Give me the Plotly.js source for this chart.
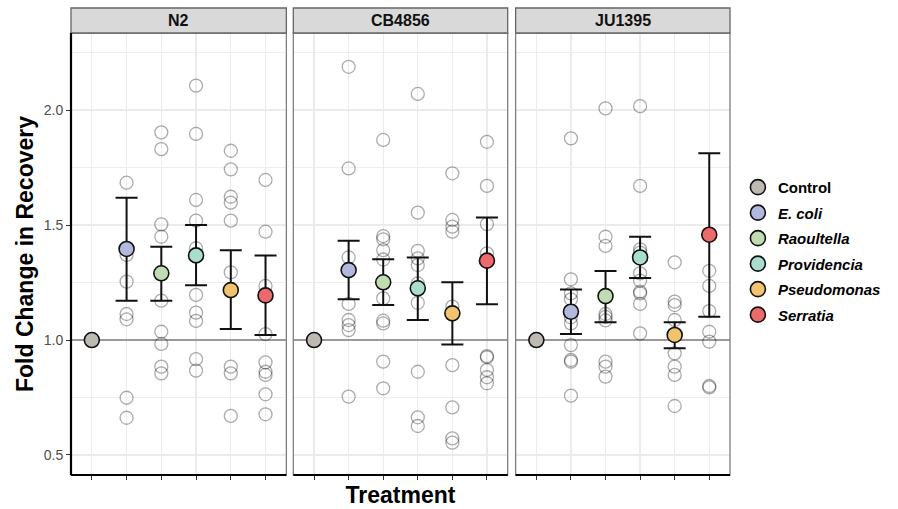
<!DOCTYPE html>
<html>
<head>
<meta charset="utf-8">
<script src="https://cdn.plot.ly/plotly-3.0.1.min.js"></script>
<style>html,body{margin:0;padding:0;background:#fff;}#chart{width:898px;height:509px;}</style>
</head>
<body>
<div id="chart"></div>
<script>
// ---------- data ----------
const strains = ["N2", "CB4856", "JU1395"];
const treatments = ["Control", "E. coli", "Raoultella", "Providencia", "Pseudomonas", "Serratia"];
const legendNames = ["<b>Control</b>", "<b><i>E. coli</i></b>", "<b><i>Raoultella</i></b>",
                     "<b><i>Providencia</i></b>", "<b><i>Pseudomonas</i></b>", "<b><i>Serratia</i></b>"];
const colors = ["#BDBBB1", "#B3B8DE", "#BFDCB2", "#A9DECF", "#F1C36E", "#EC6A6B"];

// raw observations, one list per treatment (order as in treatments)
const rawN2 = [
  [1, 1, 1, 1, 1, 1, 1, 1],
  [1.684, 1.37, 1.254, 1.113, 1.09, 0.749, 0.662],
  [1.903, 1.830, 1.503, 1.449, 1.171, 1.036, 0.983, 0.884, 0.855],
  [2.106, 1.896, 1.609, 1.519, 1.399, 1.196, 1.119, 1.083, 0.917, 0.867],
  [1.823, 1.742, 1.623, 1.597, 1.519, 1.294, 0.884, 0.855, 0.670],
  [1.696, 1.471, 1.235, 1.026, 0.903, 0.862, 0.848, 0.764, 0.677]
];
const rawCB4856 = [
  [1, 1, 1, 1, 1, 1, 1, 1],
  [2.188, 1.746, 1.359, 1.157, 1.087, 1.065, 1.043, 0.754],
  [1.870, 1.452, 1.438, 1.391, 1.35, 1.181, 1.084, 1.072, 0.906, 0.790],
  [2.070, 1.554, 1.388, 1.355, 1.326, 1.246, 1.162, 0.862, 0.664, 0.626],
  [1.725, 1.522, 1.493, 1.471, 1.145, 0.891, 0.707, 0.572, 0.554],
  [1.862, 1.670, 1.504, 1.377, 0.930, 0.925, 0.870, 0.838, 0.812]
];
const rawJU1395 = [
  [1, 1, 1, 1, 1, 1, 1, 1],
  [1.877, 1.264, 1.203, 1.177, 1.099, 1.072, 0.978, 0.913, 0.906, 0.758],
  [2.007, 1.449, 1.409, 1.113, 1.101, 1.085, 0.906, 0.884, 0.841],
  [2.017, 1.670, 1.394, 1.38, 1.290, 1.258, 1.210, 1.203, 1.157, 1.029],
  [1.338, 1.167, 1.152, 1.087, 1.02, 0.942, 0.884, 0.848, 0.713],
  [1.301, 1.235, 1.126, 1.036, 0.993, 0.800, 0.794]
];

// summary estimates with interval bounds
const meanN2 = [1.0, 1.396, 1.290, 1.368, 1.217, 1.194];
const upperN2 = [1.0, 1.619, 1.406, 1.500, 1.390, 1.367];
const lowerN2 = [1.0, 1.171, 1.171, 1.238, 1.048, 1.022];

const meanCB4856 = [1.0, 1.304, 1.251, 1.225, 1.116, 1.345];
const upperCB4856 = [1.0, 1.432, 1.351, 1.359, 1.251, 1.533];
const lowerCB4856 = [1.0, 1.177, 1.152, 1.087, 0.981, 1.155];

const meanJU1395 = [1.0, 1.123, 1.191, 1.359, 1.022, 1.458];
const upperJU1395 = [1.0, 1.220, 1.300, 1.449, 1.077, 1.812];
const lowerJU1395 = [1.0, 1.026, 1.077, 1.270, 0.964, 1.101];

const yTickVals = [0.5, 1.0, 1.5, 2.0];
const refLine = 1.0;

// ---------- build ----------
const panels = [
  {raw: rawN2, mean: meanN2, up: upperN2, lo: lowerN2, xa: "x"},
  {raw: rawCB4856, mean: meanCB4856, up: upperCB4856, lo: lowerCB4856, xa: "x2"},
  {raw: rawJU1395, mean: meanJU1395, up: upperJU1395, lo: lowerJU1395, xa: "x3"}
];

const FONT = "Liberation Sans, Arial, Helvetica, sans-serif";
const xPos = treatments.map((t, i) => i + 1);          // discrete positions of treatments
const xRange = [0.4, treatments.length + 0.6];          // ggplot-style discrete expansion
const traces = [];

// reference line at fold change = 1 (drawn first so it sits beneath the points)
panels.forEach((p) => {
  traces.push({
    type: "scatter", mode: "lines", x: xRange, y: [refLine, refLine], xaxis: p.xa, yaxis: "y",
    showlegend: false, hoverinfo: "skip", line: {color: "#7F7F7F", width: 1.5}
  });
});

panels.forEach((p) => {
  const xs = [], ys = [], txt = [];
  p.raw.forEach((vals, i) => vals.forEach(v => { xs.push(xPos[i]); ys.push(v); txt.push(treatments[i]); }));
  traces.push({
    type: "scatter", mode: "markers", x: xs, y: ys, text: txt, xaxis: p.xa, yaxis: "y",
    showlegend: false, hoverinfo: "text+y",
    marker: {symbol: "circle-open", size: 13, color: "rgba(0,0,0,0.33)", line: {width: 1.3, color: "rgba(0,0,0,0.33)"}}
  });
});

panels.forEach((p, pi) => {
  treatments.forEach((t, i) => {
    const hasBar = p.up[i] !== p.mean[i] || p.lo[i] !== p.mean[i];
    traces.push({
      type: "scatter", mode: "markers", x: [xPos[i]], y: [p.mean[i]], xaxis: p.xa, yaxis: "y",
      name: legendNames[i], legendgroup: t, showlegend: pi === 0,
      marker: {symbol: "circle", size: 15, color: colors[i], line: {width: 1.6, color: "#111"}},
      error_y: {
        type: "data", symmetric: false, visible: hasBar,
        array: [p.up[i] - p.mean[i]], arrayminus: [p.mean[i] - p.lo[i]],
        color: "#111", thickness: 2, width: 11
      }
    });
  });
});

const W = 898, L = 71, R = 163, T = 33, B = 34;
const PW = W - L - R;
const PH = 509 - T - B;
const px = v => (v - L) / PW;
const doms = [[px(71), px(288)], [px(295), px(511)], [px(519), px(735)]];

const xBase = {
  type: "linear", range: xRange, tickmode: "array", tickvals: xPos,
  showticklabels: false, ticks: "outside", ticklen: 4,
  tickcolor: "#333", tickwidth: 1, showgrid: true, gridcolor: "#EBEBEB", gridwidth: 1.2,
  zeroline: false, showline: false, anchor: "y", fixedrange: true
};

const yLo = 0.413, yHi = 2.335;
const shapes = [];
const annotations = [];
const stripTop = 1 + 25 / PH;
["x", "x2", "x3"].forEach((xa, i) => {
  const d = doms[i];
  shapes.push({type: "rect", layer: "above", xref: "paper", yref: "paper", x0: d[0], x1: d[1], y0: 0, y1: 1,
               line: {color: "#7F7F7F", width: 1.3}});
  shapes.push({type: "rect", layer: "above", xref: "paper", yref: "paper", x0: d[0], x1: d[1], y0: 1, y1: stripTop,
               fillcolor: "#D9D9D9", line: {color: "#666", width: 1.3}});
  shapes.push({type: "line", layer: "above", xref: "paper", yref: "paper", x0: d[0], x1: d[1], y0: 0, y1: 0,
               line: {color: "#000", width: 2.2}});
  annotations.push({xref: "paper", yref: "paper", x: (d[0] + d[1]) / 2, y: (1 + stripTop) / 2, showarrow: false,
                    text: "<b>" + strains[i] + "</b>", font: {family: FONT, size: 16, color: "#111"},
                    xanchor: "center", yanchor: "middle"});
});
shapes.push({type: "line", layer: "above", xref: "paper", yref: "paper", x0: doms[0][0], x1: doms[0][0], y0: 0, y1: 1,
             line: {color: "#000", width: 2.2}});

const layout = {
  width: 898, height: 509,
  margin: {l: L, r: R, t: T, b: B, pad: 0},
  paper_bgcolor: "#fff", plot_bgcolor: "#fff",
  font: {family: FONT, color: "#000"},
  showlegend: true,
  xaxis: Object.assign({}, xBase, {domain: doms[0]}),
  xaxis2: Object.assign({}, xBase, {domain: doms[1],
    title: {text: "<b>Treatment</b>", font: {family: FONT, size: 23, color: "#000"}, standoff: 7}}),
  xaxis3: Object.assign({}, xBase, {domain: doms[2]}),
  yaxis: {
    range: [yLo, yHi], tickmode: "array", tickvals: yTickVals, tickformat: ".1f",
    ticks: "outside", ticklen: 4, tickcolor: "#333", tickwidth: 1,
    tickfont: {family: FONT, size: 14, color: "#4D4D4D"},
    showgrid: true, gridcolor: "#EBEBEB", gridwidth: 1.2,
    minor: {tick0: 0.25, dtick: 0.5, showgrid: true, gridcolor: "#EEEEEE", gridwidth: 1, ticks: ""},
    zeroline: false, showline: false, anchor: "x", fixedrange: true,
    title: {text: "<b>Fold Change in Recovery</b>", font: {family: FONT, size: 23, color: "#000"}, standoff: 3}
  },
  legend: {
    x: 1.012, xanchor: "left", y: 0.688, yanchor: "top",
    font: {family: FONT, size: 15, color: "#000"},
    tracegroupgap: 3, bgcolor: "rgba(0,0,0,0)", borderwidth: 0
  },
  shapes: shapes,
  annotations: annotations
};

Plotly.newPlot("chart", traces, layout, {displayModeBar: false, staticPlot: true});
</script>
</body>
</html>
